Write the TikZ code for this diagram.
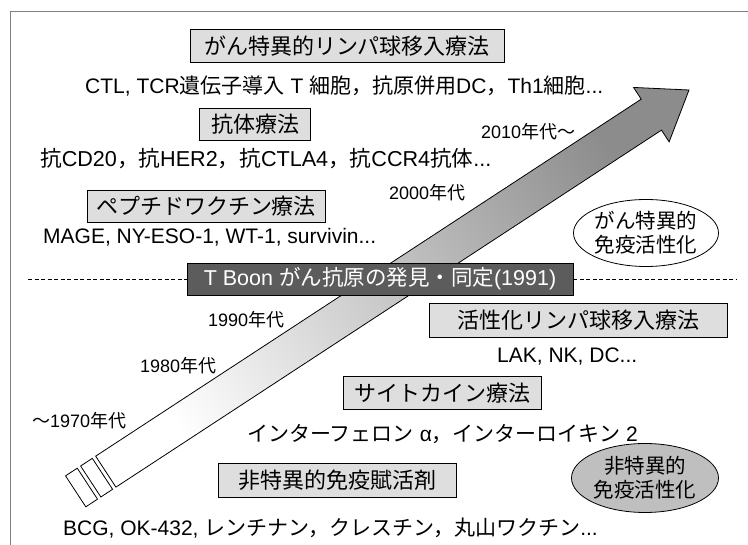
\documentclass[tikz,border=0pt]{standalone}
\usepackage{fontspec}
\setmainfont{Noto Sans CJK JP}
\newfontfamily\lat{Liberation Sans}
\newcommand{\lt}[1]{{\lat #1}}
\usetikzlibrary{shapes.geometric}
\definecolor{boxfill}{gray}{0.87}
\definecolor{darkbox}{gray}{0.36}
\definecolor{framegray}{gray}{0.5}
\begin{document}
\begin{tikzpicture}[x=1pt,y=-1pt,
  catbox/.style={draw=black, line width=0.8pt, fill=boxfill, inner sep=0pt, minimum height=33pt, font=\fontsize{22}{24}\selectfont},
  darkcat/.style={draw=black, line width=0.8pt, fill=darkbox, text=white, inner sep=0pt, minimum height=32pt, font=\fontsize{21.5}{24}\selectfont},
  item/.style={font=\fontsize{21}{24}\selectfont, inner sep=0pt, anchor=west},
  year/.style={font=\fontsize{18}{20}\selectfont, inner sep=0pt, anchor=west},
  oval/.style={ellipse, draw=black, line width=0.8pt, inner sep=0pt, align=center, font=\fontsize{20.5}{24}\selectfont},
  divider/.style={line width=0.6pt, dash pattern=on 4pt off 2.5pt},
  bigarrow/.style={draw=black, line width=0.8pt, line join=miter},
]
\useasboundingbox (0,0) rectangle (748,545);
% frame
\coordinate (fa) at (10,545);
\coordinate (fb) at (10,11);
\coordinate (fc) at (748,11);
\draw[framegray, line width=0.7pt] (fa) -- (fb) -- (fc);

% big arrow (tip at 689,90, pointing up-right)
\begin{scope}[shift={(689,90)}, rotate=33.2]
  \path[bigarrow, left color=white, right color=black!45, shading angle=123.2]
    (0,0) -- (-45,-32.5) -- (-45,-18.5) -- (-697,-18.5) -- (-697,18.5) -- (-45,18.5) -- (-45,32.5) -- cycle;
  \draw[line width=0.8pt, fill=white] (-701,-18.5) rectangle (-715,18.5);
  \draw[line width=0.8pt, fill=white] (-719,-18.5) rectangle (-733,18.5);
\end{scope}

% upper part
\node[catbox, minimum width=314pt] (b1) at (347,46) {がん特異的リンパ球移入療法};
\node[item] (t1) at (85,86) {\lt{CTL, TCR}遺伝子導入\lt{ T }細胞，抗原併用\lt{DC}，\lt{Th1}細胞\lt{...}};
\node[catbox, minimum width=111pt, minimum height=32pt] (b2) at (255,124) {抗体療法};
\node[item, font=\fontsize{21.6}{24}\selectfont] (t2) at (40,159) {抗\lt{CD20}，抗\lt{HER2}，抗\lt{CTLA4}，抗\lt{CCR4}抗体\lt{...}};
\node[catbox, minimum width=238pt, minimum height=32pt] (b3) at (206,206) {ペプチドワクチン療法};
\node[item] (t3) at (43,237) {\lt{MAGE, NY-ESO-1, WT-1, survivin...}};

% divider and T Boon box
\node[darkcat, minimum width=386pt] (tb) at (380,279) {\lt{T Boon }がん抗原の発見・同定\lt{(1991)}};
\coordinate (dl) at (28,279);
\coordinate (dr) at (736,279);
\draw[divider] (dl) -- (tb.west);
\draw[divider] (tb.east) -- (dr);

% years
\node[year] (y10) at (481,132) {\lt{2010}年代～};
\node[year] (y00) at (389,193) {\lt{2000}年代};
\node[year] (y90) at (208,320) {\lt{1990}年代};
\node[year] (y80) at (140,366) {\lt{1980}年代};
\node[year] (y70) at (32,421) {～\lt{1970}年代};

% ovals
\node[oval, fill=white, minimum width=145pt, minimum height=67pt] (e1) at (646,233) {がん特異的\\免疫活性化};
\node[oval, fill=black!25, minimum width=147pt, minimum height=69pt] (e2) at (645,478) {非特異的\\免疫活性化};

% lower part
\node[catbox, minimum width=298pt, minimum height=34pt] (b4) at (578,320) {活性化リンパ球移入療法};
\node[item] (t4) at (497,357) {\lt{LAK, NK, DC...}};
\node[catbox, minimum width=198pt] (b5) at (442,393) {サイトカイン療法};
\node[item] (t5) at (247,434) {インターフェロン\lt{ α}，インターロイキン\lt{ 2}};
\node[catbox, minimum width=238pt, minimum height=34pt] (b6) at (337,480) {非特異的免疫賦活剤};
\node[item] (t6) at (63,528) {\lt{BCG, OK-432, }レンチナン，クレスチン，丸山ワクチン\lt{...}};
\end{tikzpicture}
\end{document}
